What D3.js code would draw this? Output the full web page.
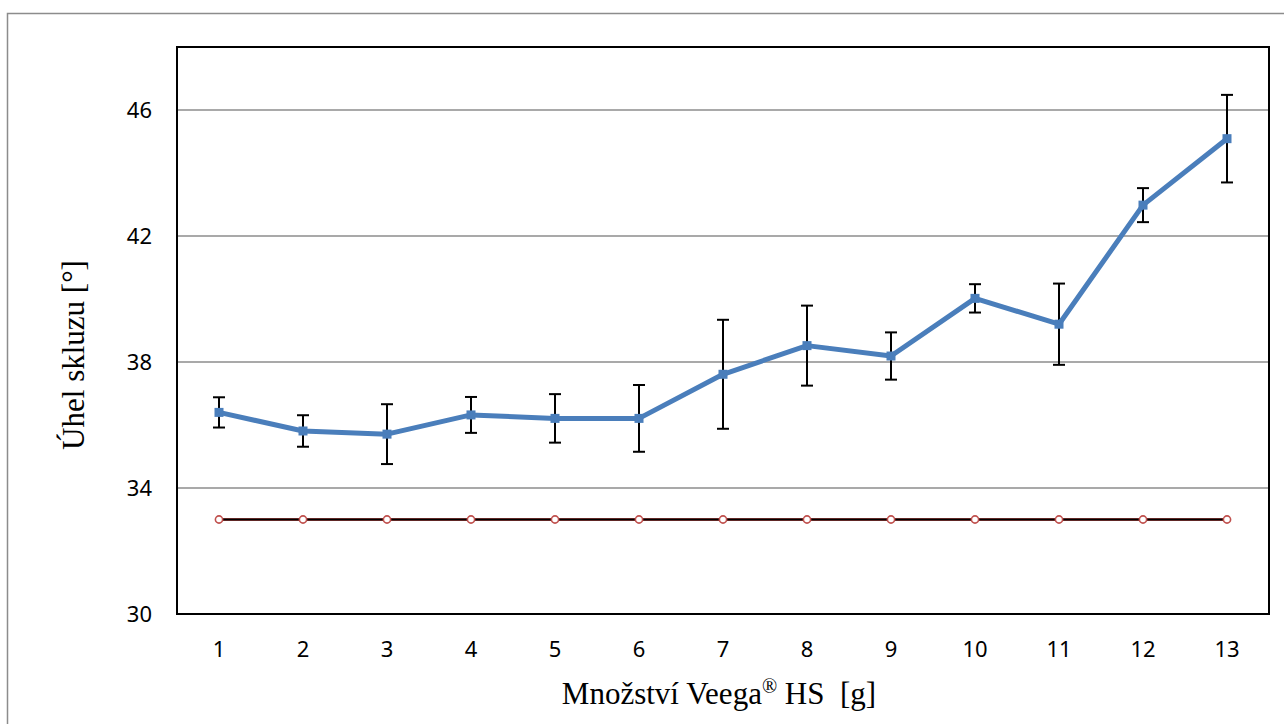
<!DOCTYPE html>
<html>
<head>
<meta charset="utf-8">
<script src="https://cdn.jsdelivr.net/npm/d3@7"></script>
<style>
  body { margin: 0; background: #fff; }
  svg { display: block; }
</style>
</head>
<body>
<svg id="chart"></svg>
<script>
// data
const amounts = ["1", "2", "3", "4", "5", "6", "7", "8", "9", "10", "11", "12", "13"];
const angles = [36.4, 35.81, 35.71, 36.32, 36.21, 36.21, 37.61, 38.52, 38.19, 40.02, 39.2, 42.98, 45.09];
const errors = [0.48, 0.5, 0.95, 0.57, 0.77, 1.06, 1.73, 1.27, 0.75, 0.45, 1.29, 0.54, 1.39];
const reference = [33, 33, 33, 33, 33, 33, 33, 33, 33, 33, 33, 33, 33];
const yTicks = [30, 34, 38, 42, 46];

const W = 1284, H = 724;
const margin = { top: 47, right: 15, bottom: 110, left: 177 };
const width = W - margin.left - margin.right;
const height = H - margin.top - margin.bottom;

const svg = d3.select("#chart").attr("width", W).attr("height", H);

// outer chart frame (clipped on right/bottom)
svg.append("rect")
  .attr("x", 7.5).attr("y", 13.5)
  .attr("width", W).attr("height", H)
  .attr("fill", "none")
  .attr("stroke", "#8c8c8c")
  .attr("stroke-width", 1.5);

const chart = svg.append("g")
  .attr("transform", `translate(${margin.left},${margin.top})`);

const x = d3.scaleBand().domain(amounts).range([0, width]);
const y = d3.scaleLinear().domain([30, 48]).range([height, 0]);
const cx = d => x(d) + x.bandwidth() / 2;

// gridlines
chart.selectAll(".grid")
  .data(yTicks.filter(t => t > 30))
  .join("line")
    .attr("class", "grid")
    .attr("x1", 0).attr("x2", width)
    .attr("y1", d => y(d)).attr("y2", d => y(d))
    .attr("stroke", "#8c8c8c")
    .attr("stroke-width", 1.5);

// y axis labels
const yAxis = d3.axisLeft(y).tickValues(yTicks).tickSize(0).tickPadding(25);
chart.append("g").call(yAxis)
  .call(g => g.select(".domain").remove())
  .selectAll("text")
    .attr("font-family", "'Noto Sans', sans-serif")
    .attr("font-size", 22)
    .attr("fill", "#000");

// x axis labels
const xAxis = d3.axisBottom(x).tickSize(0).tickPadding(27);
chart.append("g")
  .attr("transform", `translate(0,${height})`)
  .call(xAxis)
  .call(g => g.select(".domain").remove())
  .selectAll("text")
    .attr("font-family", "'Noto Sans', sans-serif")
    .attr("font-size", 22)
    .attr("fill", "#000");

// plot border
chart.append("rect")
  .attr("width", width).attr("height", height)
  .attr("fill", "none")
  .attr("stroke", "#000")
  .attr("stroke-width", 2);

// reference line at 33
const line = d3.line().x((d, i) => cx(amounts[i])).y(d => y(d));
chart.append("path")
  .datum(reference)
  .attr("d", line)
  .attr("fill", "none")
  .attr("stroke", "#c0504d")
  .attr("stroke-width", 3);
chart.append("path")
  .datum(reference)
  .attr("d", line)
  .attr("fill", "none")
  .attr("stroke", "#000")
  .attr("stroke-width", 2);
chart.selectAll(".refdot")
  .data(reference)
  .join("circle")
    .attr("class", "refdot")
    .attr("cx", (d, i) => cx(amounts[i]))
    .attr("cy", d => y(d))
    .attr("r", 3.6)
    .attr("fill", "#fff")
    .attr("stroke", "#c0504d")
    .attr("stroke-width", 1.6);

// error bars
const eb = chart.selectAll(".err")
  .data(angles.map((v, i) => ({ k: amounts[i], v: v, e: errors[i] })))
  .join("g")
    .attr("class", "err")
    .attr("stroke", "#000")
    .attr("stroke-width", 2);
eb.append("line")
  .attr("x1", d => cx(d.k)).attr("x2", d => cx(d.k))
  .attr("y1", d => y(d.v + d.e)).attr("y2", d => y(d.v - d.e));
eb.append("line")
  .attr("x1", d => cx(d.k) - 6).attr("x2", d => cx(d.k) + 6)
  .attr("y1", d => y(d.v + d.e)).attr("y2", d => y(d.v + d.e));
eb.append("line")
  .attr("x1", d => cx(d.k) - 6).attr("x2", d => cx(d.k) + 6)
  .attr("y1", d => y(d.v - d.e)).attr("y2", d => y(d.v - d.e));

// main series
chart.append("path")
  .datum(angles)
  .attr("d", line)
  .attr("fill", "none")
  .attr("stroke", "#4a7ebb")
  .attr("stroke-width", 5)
  .attr("stroke-linejoin", "round");
chart.selectAll(".pt")
  .data(angles)
  .join("rect")
    .attr("class", "pt")
    .attr("x", (d, i) => cx(amounts[i]) - 4.5)
    .attr("y", d => y(d) - 4.5)
    .attr("width", 9).attr("height", 9)
    .attr("fill", "#4a7ebb");

// axis titles
const xt = svg.append("text")
  .attr("x", margin.left + width / 2 - 4)
  .attr("y", 704)
  .attr("text-anchor", "middle")
  .attr("font-family", "'Liberation Serif', serif")
  .attr("font-size", 31)
  .attr("fill", "#000")
  .attr("xml:space", "preserve");
xt.append("tspan").text("Množství Veega");
xt.append("tspan").attr("font-size", 20).attr("dy", -11).text("®");
xt.append("tspan").attr("dy", 11).text(" HS  [g]");

svg.append("text")
  .attr("transform", "translate(84,355) rotate(-90)")
  .attr("text-anchor", "middle")
  .attr("font-family", "'Liberation Serif', serif")
  .attr("font-size", 31)
  .attr("fill", "#000")
  .text("Úhel skluzu [°]");
</script>
</body>
</html>
